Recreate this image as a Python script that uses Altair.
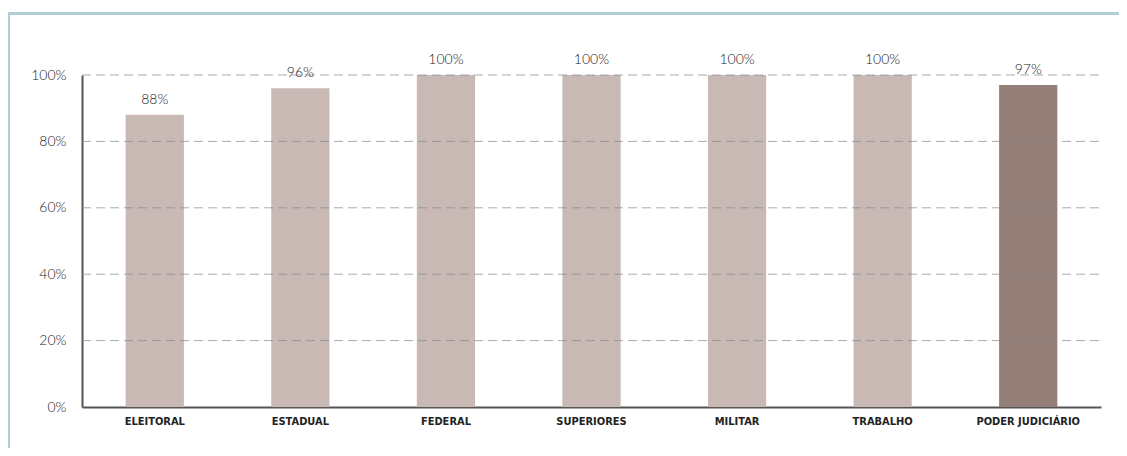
import altair as alt
import pandas as pd

categories = ["ELEITORAL", "ESTADUAL", "FEDERAL", "SUPERIORES", "MILITAR", "TRABALHO", "PODER JUDICIÁRIO"]
values = [0.88, 0.96, 1.00, 1.00, 1.00, 1.00, 0.97]
labels = ["88%", "96%", "100%", "100%", "100%", "100%", "97%"]
highlight = [False, False, False, False, False, False, True]

df = pd.DataFrame({"cat": categories, "val": values, "lab": labels, "hl": highlight})

W, H = 1019, 332

x = alt.X("cat:N", sort=categories, title=None,
          scale=alt.Scale(paddingInner=0.6, paddingOuter=0.3),
          axis=alt.Axis(labelAngle=0, labelFont="DejaVu Sans Condensed", labelFontWeight="bold",
                        labelFontSize=11, labelColor="#222", labelPadding=8, ticks=False,
                        domainColor="#555", domainWidth=2, grid=False))
y = alt.Y("val:Q", title=None,
          scale=alt.Scale(domain=[0, 1]),
          axis=alt.Axis(format="%", values=[0, 0.2, 0.4, 0.6, 0.8, 1.0], labelFont="Lato",
                        labelFontSize=14, labelFontWeight=300, labelColor="#222", labelPadding=16,
                        ticks=False, domainColor="#555", domainWidth=2, grid=False))

bars = alt.Chart(df).mark_bar().encode(
    x=x, y=y,
    color=alt.Color("hl:N", scale=alt.Scale(domain=[False, True], range=["#c8b9b5", "#937f77"]), legend=None),
)

text = alt.Chart(df).mark_text(dy=-15, font="Lato", fontSize=14, fontWeight=300, color="#222").encode(
    x=alt.X("cat:N", sort=categories), y="val:Q", text="lab:N"
)

grid_df = pd.DataFrame({"g": [0.2, 0.4, 0.6, 0.8, 1.0]})
grid = alt.Chart(grid_df).mark_rule(color="#888", strokeDash=[9, 5], strokeWidth=1, opacity=0.7).encode(
    y="g:Q", x=alt.value(0), x2=alt.value(W)
)

one = pd.DataFrame({"a": [0]})
border_left = alt.Chart(one).mark_rule(color="#b0cfd4", strokeWidth=3).encode(
    x=alt.value(-73.5), y=alt.value(-61.5), y2=alt.value(420)
)
border_top = alt.Chart(one).mark_rule(color="#b0cfd4", strokeWidth=3).encode(
    x=alt.value(-75), x2=alt.value(1060), y=alt.value(-61.5)
)

chart = alt.layer(bars, grid, text, border_left, border_top).properties(
    width=W, height=H,
    autosize=alt.AutoSizeParams(type="none"),
    padding={"left": 74, "top": 67, "right": 18, "bottom": 41},
    background="white",
).configure_view(stroke=None)

chart.save("out.html", embed_options={"renderer": "svg", "actions": False})
